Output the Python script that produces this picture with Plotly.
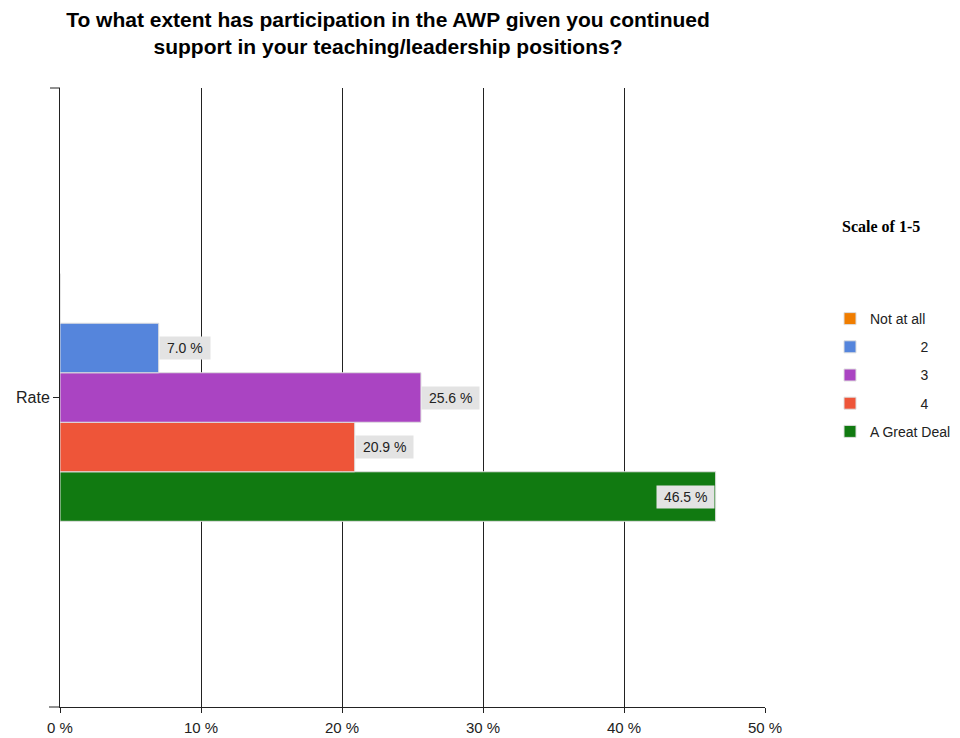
import plotly.graph_objects as go

# Survey responses, scale of 1-5
categories = ["Not at all", "2", "3", "4", "A Great Deal"]
percentages = [0.0, 7.0, 25.6, 20.9, 46.5]
bar_colors = ["#f07d00", "#5585dc", "#aa44c2", "#ee5539", "#117a11"]
row_label = "Rate"
x_ticks = [0, 10, 20, 30, 40, 50]

BARGAP = 0.6
n = len(categories)
bar_w = (1 - BARGAP) / n

# plot area in pixels
L, R, T, B = 60, 765, 88, 707
PW, PH = R - L, B - T

fig = go.Figure()

# Plotly stacks horizontal grouped bars bottom-up, so add them in reverse
order = list(range(n))[::-1]
for slot, i in enumerate(order):
    name = categories[i]
    shown = name if len(name) > 1 else "\u00a0" * 13 + name
    fig.add_trace(go.Bar(
        y=[0], x=[percentages[i]], orientation="h",
        name=shown, legendgroup=name, legendrank=i + 1,
        marker=dict(color=bar_colors[i], line=dict(color="#dedede", width=1)),
        hoverinfo="x+name",
    ))

annotations = []
for slot, i in enumerate(order):
    v = percentages[i]
    if v <= 0:
        continue
    yc = -(1 - BARGAP) / 2 + (slot + 0.5) * bar_w
    inside = v > 40
    annotations.append(dict(
        x=v, y=yc, xref="x", yref="y",
        text="\u00a0" + f"{v:.1f} %" + "\u00a0",
        showarrow=False,
        xanchor="right" if inside else "left",
        xshift=-1 if inside else 0,
        bgcolor="#e3e3e3", borderpad=3,
        font=dict(family="Liberation Sans, Arial", size=14, color="#222"),
    ))

annotations.append(dict(
    x=(881 - L) / PW, y=(B - 226) / PH, xref="paper", yref="paper",
    text="<b>Scale of 1-5</b>", showarrow=False, xanchor="center", yanchor="middle",
    font=dict(family="Liberation Serif, Times New Roman", size=16, color="#000"),
))

shapes = [
    # short end caps on the axes
    dict(type="line", xref="paper", yref="paper", x0=-10 / PW, x1=0, y0=1, y1=1,
         line=dict(color="#222", width=1)),
    dict(type="line", xref="paper", yref="paper", x0=-11 / PW, x1=0, y0=0, y1=0,
         line=dict(color="#222", width=1)),
]

fig.update_layout(
    width=960, height=738,
    margin=dict(l=L, r=960 - R, t=T, b=738 - B, autoexpand=False),
    paper_bgcolor="white", plot_bgcolor="white",
    barmode="group", bargap=BARGAP, bargroupgap=0,
    title=dict(
        text="To what extent has participation in the AWP given you continued<br>support in your teaching/leadership positions?",
        x=388 / 960, xanchor="center", y=1 - 27 / 738, yanchor="middle",
        font=dict(family="Liberation Sans, Arial", size=21, color="#000", weight="bold"),
    ),
    xaxis=dict(
        range=[0, 50], tickvals=x_ticks, ticktext=[f"{t} %" for t in x_ticks],
        showgrid=True, gridcolor="#222", gridwidth=1,
        showline=True, linecolor="#222", linewidth=1,
        ticks="outside", ticklen=5, tickcolor="#222",
        ticklabelstandoff=2,
        zeroline=False,
        tickfont=dict(family="Liberation Sans, Arial", size=15, color="#222"),
    ),
    yaxis=dict(
        range=[-0.5, 0.5], tickvals=[0], ticktext=[row_label],
        showgrid=False, zeroline=False,
        showline=True, linecolor="#222", linewidth=1,
        ticks="outside", ticklen=6, tickcolor="#222",
        tickfont=dict(family="Liberation Sans, Arial", size=16, color="#222"),
        fixedrange=True,
    ),
    legend=dict(
        x=(830 - L) / PW, y=(B - 303) / PH, xanchor="left", yanchor="top",
        traceorder="grouped", tracegroupgap=7,
        font=dict(family="Liberation Sans, Arial", size=14, color="#222"),
        bgcolor="rgba(0,0,0,0)",
    ),
    annotations=annotations,
    shapes=shapes,
    showlegend=True,
)

fig.write_html("out.html")
